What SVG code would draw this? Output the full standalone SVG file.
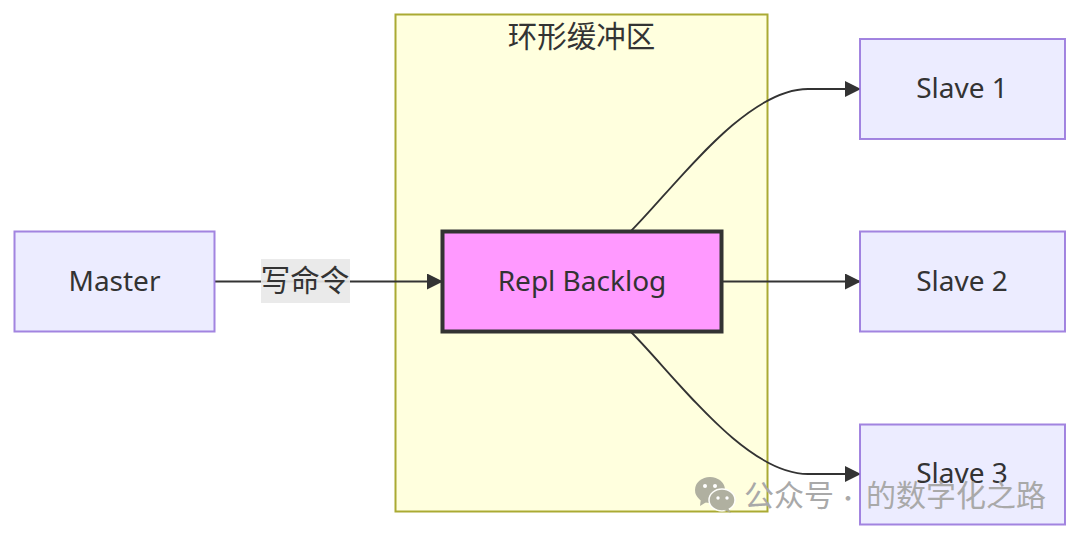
<svg xmlns="http://www.w3.org/2000/svg" width="1080" height="539" viewBox="0 0 1080 539">
<style>
text{font-family:"Noto Sans","Noto Sans CJK SC",sans-serif;fill:#333;text-anchor:middle;font-size:28px}
.c{font-family:"Noto Sans CJK SC",sans-serif;font-size:29.500px}
.n{fill:#ececff;stroke:#9370db;stroke-width:2;stroke-opacity:.85}
.e{fill:none;stroke:#333;stroke-width:1.800}
.wm{font-size:30px;fill:#a9a9a9;text-anchor:start;font-family:"Noto Sans CJK SC","Noto Sans",sans-serif}
</style>
<defs><marker id="a" markerUnits="userSpaceOnUse" markerWidth="16" markerHeight="16" refX="15" refY="8" orient="auto"><path d="M0 0L15 7.500V8.500L0 16Z" fill="#333"/></marker></defs>
<rect width="1080" height="539" fill="#fff"/>
<g id="cluster"><rect x="395.500" y="14.500" width="372" height="497" fill="#ffffde" stroke="#aaaa33" stroke-width="2"/><text class="c" x="581.500" y="46.500">环形缓冲区</text></g>
<g id="connectors">
<path class="e" d="M215 281.500H442" marker-end="url(#a)"/>
<path class="e" d="M631 231C675 187 745 89 808 89H860" marker-end="url(#a)"/>
<path class="e" d="M722 281.500H860" marker-end="url(#a)"/>
<path class="e" d="M631 332C675 376 745 474 808 474H860" marker-end="url(#a)"/>
</g>
<g id="edge-label"><rect x="261" y="259" width="89" height="44" fill="#e8e8e8" opacity=".9"/><text class="c" x="305" y="291">写命令</text></g>
<g id="master"><rect class="n" x="14.500" y="231.500" width="200" height="100"/><text x="114.500" y="291">Master</text></g>
<g id="backlog"><rect x="442.500" y="231.500" width="279" height="100" fill="#ff99ff" stroke="#333" stroke-width="4"/><text x="582" y="291">Repl Backlog</text></g>
<g id="slave1"><rect class="n" x="860" y="39" width="205" height="100"/><text x="962" y="98">Slave 1</text></g>
<g id="slave2"><rect class="n" x="860" y="231.500" width="205" height="100"/><text x="962" y="291">Slave 2</text></g>
<g id="slave3"><rect class="n" x="860" y="424.500" width="205" height="100"/><text x="962" y="483">Slave 3</text></g>
<g id="watermark"><g fill="#a8a89a" opacity=".9"><ellipse cx="710" cy="490" rx="15" ry="13"/><path d="M701 498l-1 8 8-5z"/><ellipse cx="722" cy="500" rx="13" ry="11" stroke="#fff" stroke-width="1.500"/><path d="M728 508l3 5-7-3z"/></g><g fill="#fff"><circle cx="705" cy="486" r="2"/><circle cx="715" cy="486" r="2"/><circle cx="718" cy="498" r="1.700"/><circle cx="727" cy="498" r="1.700"/></g>
<text class="wm" x="744" y="506">公众号</text><text class="wm" x="848" y="506" style="text-anchor:middle;font-size:22px">·</text><text class="wm" x="866" y="506">的数字化之路</text></g>
</svg>
